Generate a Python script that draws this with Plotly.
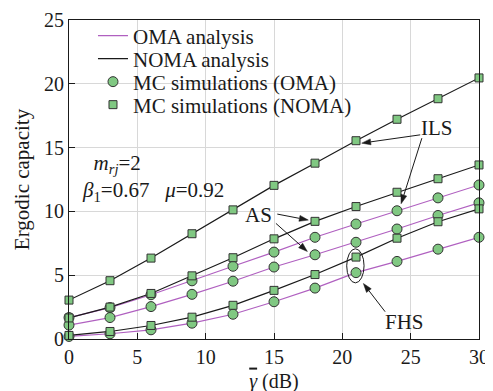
import plotly.graph_objects as go

snr_db = [0, 3, 6, 9, 12, 15, 18, 21, 24, 27, 30]

noma_ils = [3.05, 4.57, 6.34, 8.25, 10.12, 12.04, 13.78, 15.54, 17.22, 18.83, 20.46]
noma_as = [1.65, 2.50, 3.57, 4.95, 6.37, 7.85, 9.22, 10.38, 11.50, 12.56, 13.64]
noma_fhs = [0.28, 0.59, 1.06, 1.71, 2.64, 3.81, 5.05, 6.42, 7.90, 9.19, 10.20]
oma_ils = [1.68, 2.46, 3.47, 4.56, 5.70, 6.81, 7.97, 9.01, 10.05, 11.06, 12.07]
oma_as = [1.09, 1.68, 2.54, 3.50, 4.53, 5.64, 6.60, 7.58, 8.62, 9.68, 10.67]
oma_fhs = [0.20, 0.41, 0.72, 1.24, 1.94, 2.92, 3.99, 5.20, 6.08, 7.04, 7.97]

x_ticks = [0, 5, 10, 15, 20, 25, 30]
y_ticks = [0, 5, 10, 15, 20, 25]

FONT = "Liberation Serif, Times New Roman, Times, serif"
PURPLE = "#b060c0"
GREEN = "#80c882"
EDGE = "#333333"
INK = "#1a1a1a"

# figure margins (the page body adds an 8px offset)
L, R, T, B = 61, 22, 12, 60
W, H = 493, 391
X_RANGE = [0, 30]
Y_RANGE = [0, 25]
PLOT_W = W - L - R
PLOT_H = H - T - B
PX_X = PLOT_W / (X_RANGE[1] - X_RANGE[0])
PX_Y = PLOT_H / (Y_RANGE[1] - Y_RANGE[0])
SCREEN_TOP = T + 8

fig = go.Figure()

oma_series = [oma_ils, oma_as, oma_fhs]
noma_series = [noma_ils, noma_as, noma_fhs]

for i, s in enumerate(oma_series):
    fig.add_trace(go.Scatter(x=snr_db, y=s, mode="lines", line=dict(color=PURPLE, width=1.2),
                             name="OMA analysis", legend="legend", showlegend=(i == 0),
                             cliponaxis=False))
for i, s in enumerate(noma_series):
    fig.add_trace(go.Scatter(x=snr_db, y=s, mode="lines", line=dict(color=INK, width=1.2),
                             name="NOMA analysis", legend="legend2", showlegend=(i == 0),
                             cliponaxis=False))
for i, s in enumerate(oma_series):
    fig.add_trace(go.Scatter(x=snr_db, y=s, mode="markers",
                             marker=dict(symbol="circle", size=10, color=GREEN, line=dict(color=EDGE, width=1)),
                             name="MC simulations (OMA)", legend="legend3", showlegend=(i == 0),
                             cliponaxis=False))
for i, s in enumerate(noma_series):
    fig.add_trace(go.Scatter(x=snr_db, y=s, mode="markers",
                             marker=dict(symbol="square", size=8, color=GREEN, line=dict(color=EDGE, width=1)),
                             name="MC simulations (NOMA)", legend="legend4", showlegend=(i == 0),
                             cliponaxis=False))

# arrows: (tail_x, tail_y, head_x, head_y) in data units
arrows = [
    (25.70, 16.00, 21.42, 15.35),
    (25.82, 15.74, 24.30, 10.60),
    (15.24, 9.79, 17.51, 9.32),
    (15.14, 9.06, 17.44, 6.86),
    (23.13, 2.14, 21.54, 4.35),
]

shapes = []
for tx, ty, hx, hy in arrows:
    dxp = (hx - tx) * PX_X
    dyp = (hy - ty) * PX_Y
    n = (dxp ** 2 + dyp ** 2) ** 0.5
    ux, uy = dxp / n, dyp / n
    head_len, half_w = 9.0, 3.0
    bx, by = -ux * head_len, -uy * head_len
    px_, py_ = -uy * half_w, ux * half_w
    p1 = (hx + (bx + px_) / PX_X, hy + (by + py_) / PX_Y)
    p2 = (hx + (bx - px_) / PX_X, hy + (by - py_) / PX_Y)
    base = (hx + bx / PX_X, hy + by / PX_Y)
    shapes.append(dict(type="line", xref="x", yref="y", x0=tx, y0=ty, x1=base[0], y1=base[1],
                       line=dict(color=INK, width=1)))
    shapes.append(dict(type="path", xref="x", yref="y",
                       path=f"M {hx},{hy} L {p1[0]},{p1[1]} L {p2[0]},{p2[1]} Z",
                       fillcolor=INK, line=dict(color=INK, width=0.5)))

shapes.append(dict(type="circle", xref="x", yref="y", x0=20.32, x1=21.59, y0=4.4, y1=7.07,
                   line=dict(color=INK, width=1)))

annotations = [
    dict(x=26.95, y=16.55, text="ILS", showarrow=False, font=dict(size=21)),
    dict(x=13.85, y=9.72, text="AS", showarrow=False, font=dict(size=21)),
    dict(x=24.53, y=1.37, text="FHS", showarrow=False, font=dict(size=21)),
    dict(x=0.8, y=12.6,
         text="\u00a0\u00a0<i>m</i><sub><i>rj</i></sub>=2<br>"
              "<i>β</i><sub>1</sub>=0.67\u00a0\u00a0\u00a0<i>μ</i>=0.92",
         showarrow=False, xanchor="left", yanchor="middle", align="left", font=dict(size=21)),
]


def row_legend(py):
    return dict(x=0.0585, y=1 - (py - SCREEN_TOP) / PLOT_H, xanchor="left", yanchor="middle",
                bgcolor="rgba(0,0,0,0)", font=dict(size=21, family=FONT), itemwidth=30)


fig.update_layout(
    width=W, height=H,
    margin=dict(l=L, r=R, t=T, b=B, autoexpand=False),
    paper_bgcolor="white", plot_bgcolor="white",
    font=dict(family=FONT, size=20, color=INK),
    showlegend=True,
    legend=row_legend(36),
    legend2=row_legend(59),
    legend3=row_legend(82),
    legend4=row_legend(105),
    annotations=annotations,
    shapes=shapes,
)
fig.update_xaxes(range=X_RANGE, tickvals=x_ticks, ticks="inside", ticklen=6, tickcolor=INK,
                 showline=True, linecolor=INK, linewidth=1.2, mirror=True, automargin=False,
                 showgrid=True, gridcolor="#d8d8d8", gridwidth=1, zeroline=False,
                 tickfont=dict(size=20, family=FONT),
                 title=dict(text="<i><span style='text-decoration:overline'>γ</span></i> (dB)",
                            font=dict(size=20, family=FONT), standoff=6))
fig.update_yaxes(range=Y_RANGE, tickvals=y_ticks, ticks="inside", ticklen=6, tickcolor=INK,
                 showline=True, linecolor=INK, linewidth=1.2, mirror=True, automargin=False,
                 showgrid=True, gridcolor="#d8d8d8", gridwidth=1, zeroline=False,
                 tickfont=dict(size=20, family=FONT),
                 title=dict(text="Ergodic capacity", font=dict(size=21, family=FONT), standoff=8))

fig.write_html("out.html")
